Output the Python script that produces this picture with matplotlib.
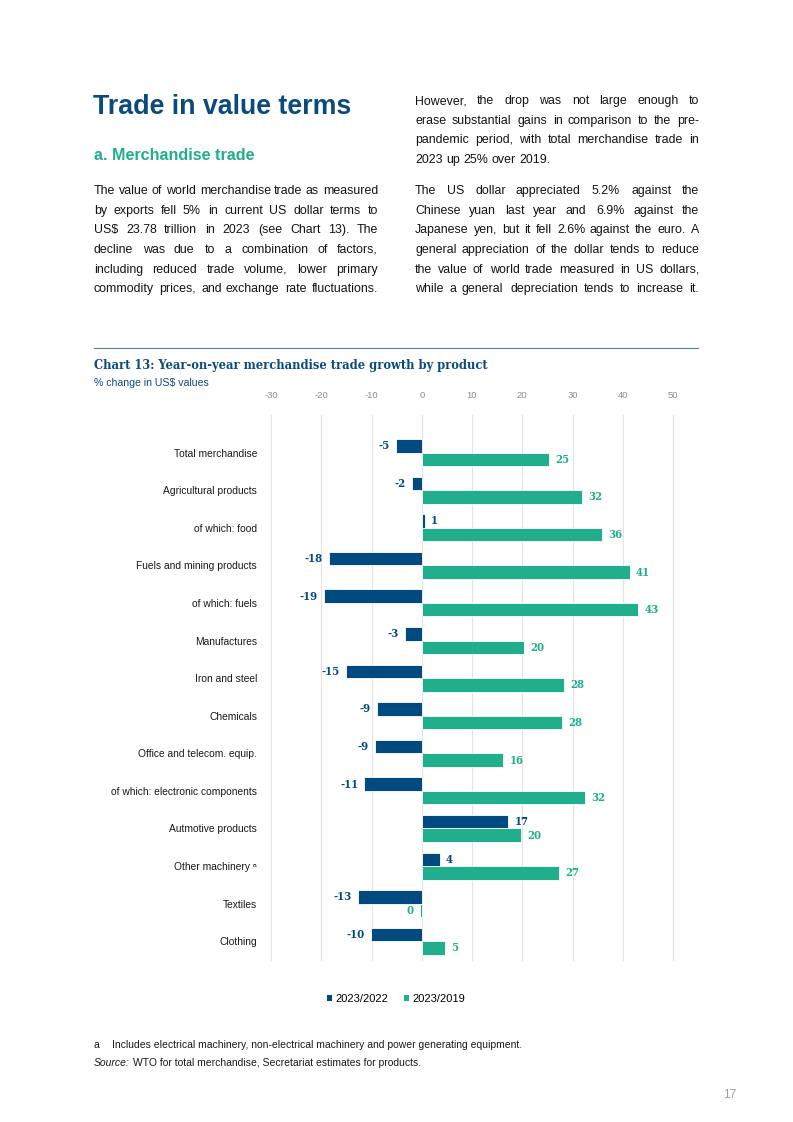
import matplotlib
matplotlib.use("Agg")
import matplotlib.pyplot as plt
from matplotlib.font_manager import FontProperties
from matplotlib.patches import Patch
import numpy as np

# ---------------- data ----------------
categories = [
    "Total merchandise",
    "Agricultural products",
    "of which: food",
    "Fuels and mining products",
    "of which: fuels",
    "Manufactures",
    "Iron and steel",
    "Chemicals",
    "Office and telecom. equip.",
    "of which: electronic components",
    "Autmotive products",
    "Other machinery ᵃ",
    "Textiles",
    "Clothing",
]
growth_2023_2022 = [-5.2, -1.9, 0.6, -18.4, -19.4, -3.4, -15.1, -9.0, -9.3, -11.4, 17.2, 3.6, -12.7, -10.1]
growth_2023_2019 = [25.4, 31.8, 35.9, 41.4, 43.1, 20.4, 28.4, 28.0, 16.2, 32.4, 19.8, 27.4, -0.4, 4.7]
series_names = ["2023/2022", "2023/2019"]
x_ticks = [-30, -20, -10, 0, 10, 20, 30, 40, 50]

left_col = [
    "The value of world merchandise trade as measured",
    "by exports fell 5% in current US dollar terms to",
    "US$ 23.78 trillion in 2023 (see Chart 13). The",
    "decline was due to a combination of factors,",
    "including reduced trade volume, lower primary",
    "commodity prices, and exchange rate fluctuations.",
]
right_col_p1 = [
    "However, the drop was not large enough to",
    "erase substantial gains in comparison to the pre-",
    "pandemic period, with total merchandise trade in",
    "2023 up 25% over 2019.",
]
right_col_p2 = [
    "The US dollar appreciated 5.2% against the",
    "Chinese yuan last year and 6.9% against the",
    "Japanese yen, but it fell 2.6% against the euro. A",
    "general appreciation of the dollar tends to reduce",
    "the value of world trade measured in US dollars,",
    "while a general depreciation tends to increase it.",
]

# ---------------- style ----------------
BLUE = "#004a80"
TEAL = "#20ae8c"
TITLE_BLUE = "#0b4a7c"
SANS = ["Liberation Sans", "DejaVu Sans"]
BODY = SANS
SLAB = ["DejaVu Serif"]

W, H = 793, 1122
fig = plt.figure(figsize=(W / 100, H / 100), dpi=100)
renderer = fig.canvas.get_renderer()


def fx(x):
    return x / W


def fy(y):
    return 1 - y / H


def text_w(s, size, family=SANS, weight="normal", style="normal", stretch="normal"):
    prop = FontProperties(family=family, size=size, weight=weight, style=style, stretch=stretch)
    w, h, d = renderer.get_text_width_height_descent(s, prop, ismath=False)
    return w


def fit(s, target, family=SANS, weight="normal", style="normal", stretch="normal"):
    return 10 * target / text_w(s, 10, family, weight, style, stretch)


# ---------------- page header ----------------
ts = fit("Trade in value terms", 259, weight="bold")
fig.text(fx(93), fy(114), "Trade in value terms", fontsize=ts, fontweight="bold",
         color=TITLE_BLUE, family=SANS, va="baseline", ha="left")
ss = fit("a. Merchandise trade", 161, weight="bold")
fig.text(fx(94), fy(160), "a. Merchandise trade", fontsize=ss, fontweight="bold",
         color=TEAL, family=SANS, va="baseline", ha="left")

# body size fitted so tightest line fills the column
col_w = 284
all_lines = left_col + right_col_p1 + right_col_p2
body_size = min(10 * col_w / text_w(l, 10, BODY) for l in all_lines) * 0.995


def justified(lines, x0, y0, dy, justify_last=True, color="#141414"):
    sp = text_w("a b", body_size, BODY) - text_w("ab", body_size, BODY)
    for i, line in enumerate(lines):
        y = round(y0 + i * dy)
        words = line.split(" ")
        widths = [text_w(wd, body_size, BODY) for wd in words]
        last = i == len(lines) - 1
        if len(words) > 1 and (justify_last or not last):
            gap = (col_w - sum(widths)) / (len(words) - 1)
        else:
            gap = sp
        x = x0
        for wd, wv in zip(words, widths):
            fig.text(fx(round(x)), fy(y), wd, fontsize=body_size, family=BODY, color=color,
                     va="baseline", ha="left")
            x += wv + gap


LH = 19.7
justified(left_col, 94, 194, LH)
justified(right_col_p1, 415, 104, LH, justify_last=False)
justified(right_col_p2, 415, 194, LH)

# rule
fig.add_artist(plt.Line2D([fx(94), fx(698)], [fy(348), fy(348)], color="#4f7d9c", lw=0.8))

# chart title
ctitle = "Chart 13: Year-on-year merchandise trade growth by product"
cs = fit(ctitle, 393, family=SLAB, weight="bold", stretch="condensed")
fig.text(fx(94), fy(369), ctitle, fontsize=cs, fontweight="bold", fontstretch="condensed",
         family=SLAB, color=TITLE_BLUE, va="baseline")
sub = fit("% change in US$ values", 115)
fig.text(fx(94), fy(386), "% change in US$ values", fontsize=sub, family=SANS,
         color=TITLE_BLUE, va="baseline")

# ---------------- chart ----------------
ax_left, ax_right, ax_top, ax_bot = 271, 673, 415, 960
ax = fig.add_axes([fx(ax_left), fy(ax_bot), (ax_right - ax_left) / W, (ax_bot - ax_top) / H])
y = np.arange(len(categories))
bh = 0.36
ax.barh(y - bh / 2, growth_2023_2022, height=bh, color=BLUE, edgecolor="white", linewidth=0.6, zorder=3)
ax.barh(y + bh / 2, growth_2023_2019, height=bh, color=TEAL, edgecolor="white", linewidth=0.6, zorder=3)

ax.set_xlim(-30, 50)
ax.set_ylim(13.5, -1.0)
for t in x_ticks:
    ax.axvline(t, color="#e3e3e3", lw=0.8, zorder=0, clip_on=False)
for s in ax.spines.values():
    s.set_visible(False)
ax.xaxis.tick_top()
ax.set_xticks(x_ticks)
ax.set_xticklabels([str(t) for t in x_ticks], family=SANS)
ax.tick_params(axis="x", length=0, pad=10.5, labelsize=6.8, colors="#8c8c8c")
ax.set_yticks(y)
ax.set_yticklabels(categories, family=SANS)
ax.tick_params(axis="y", length=0, pad=10, labelsize=7.4, colors="#1a1a1a")

lab_size = 8.2
for i, (a, b) in enumerate(zip(growth_2023_2022, growth_2023_2019)):
    for v, off, col in ((a, -bh / 2, BLUE), (b, bh / 2, TEAL)):
        lbl = str(int(round(v)))
        if v < 0:
            ax.annotate(lbl, (v, i + off), xytext=(-4.5, 0), textcoords="offset points",
                        ha="right", va="center", fontsize=lab_size, fontweight="bold",
                        fontstretch="condensed", family=SLAB, color=col)
        else:
            ax.annotate(lbl, (v, i + off), xytext=(4.5, 0), textcoords="offset points",
                        ha="left", va="center", fontsize=lab_size, fontweight="bold",
                        fontstretch="condensed", family=SLAB, color=col)

handles = [Patch(facecolor=BLUE, edgecolor="none"), Patch(facecolor=TEAL, edgecolor="none")]
fig.legend(handles, series_names, loc="center", bbox_to_anchor=(fx(396), fy(999)), ncol=2,
           frameon=False, handlelength=0.5, handleheight=0.5, handletextpad=0.3,
           columnspacing=1.4, prop=FontProperties(family=SANS, size=8.0))

# ---------------- footnotes ----------------
fn = 7.5
fig.text(fx(94), fy(1048), "a", fontsize=fn, family=SANS, color="#1a1a1a", va="baseline")
fig.text(fx(112), fy(1048), "Includes electrical machinery, non-electrical machinery and power generating equipment.",
         fontsize=fn, family=SANS, color="#1a1a1a", va="baseline")
src_w = text_w("Source:", fn, style="italic")
fig.text(fx(94), fy(1066), "Source:", fontsize=fn, family=SANS, style="italic", color="#1a1a1a", va="baseline")
fig.text(fx(round(94 + src_w + 3)), fy(1066), "WTO for total merchandise, Secretariat estimates for products.",
         fontsize=fn, family=SANS, color="#1a1a1a", va="baseline")
fig.text(fx(730), fy(1098), "17", fontsize=8.5, family=SANS, color="#9a9a9a", va="baseline", ha="center")

fig.savefig("out.png", dpi=100)
